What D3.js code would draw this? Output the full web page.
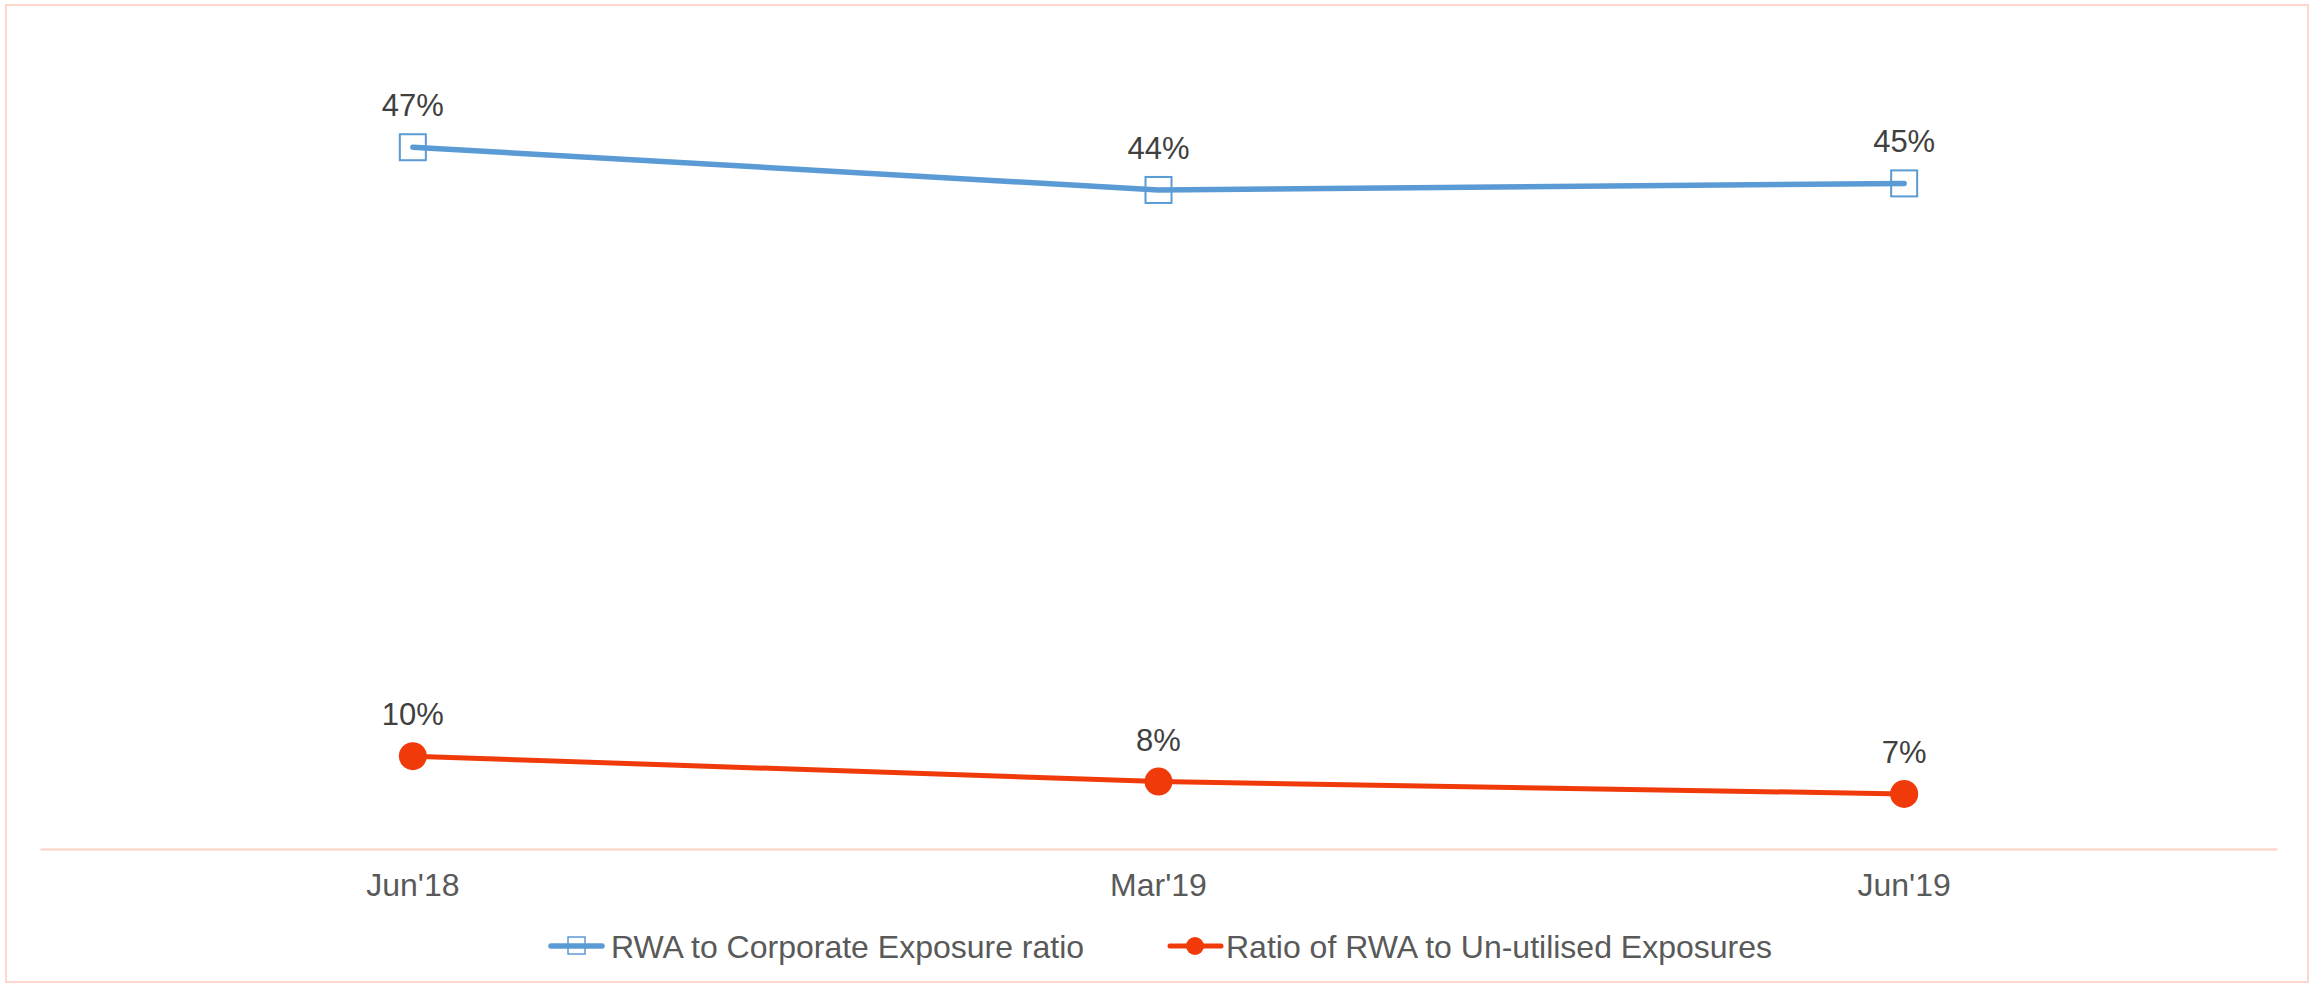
<!doctype html>
<html lang="en">
  <head>
    <meta charset="utf-8">
    <title>RWA ratios</title>
    <style>
      html, body { margin: 0; padding: 0; background: #fff; }
      svg { display: block; font-family: "Liberation Sans", Arial, sans-serif; }
    </style>
  </head>
  <body>
    <svg id="chart" width="2310" height="984"></svg>

    <script src="https://cdn.jsdelivr.net/npm/d3@7"></script>
    <script>
    // chart data
    var categories = ["Jun'18", "Mar'19", "Jun'19"];
    var corporateRatio = [46.7, 44.1, 44.5];
    var unutilisedRatio = [9.65, 8.1, 7.35];
    var seriesNames = ["RWA to Corporate Exposure ratio", "Ratio of RWA to Un-utilised Exposures"];

    var blue = "#5B9BD5", red = "#F03A0A";

    var svg = d3.select("#chart");

    // outer border
    svg.append("rect")
      .attr("x", 6).attr("y", 5)
      .attr("width", 2302).attr("height", 977)
      .attr("fill", "none")
      .attr("stroke", "#FFD6CC")
      .attr("stroke-width", 2);

    var x = d3.scaleBand()
      .domain(categories)
      .range([40, 2277]);

    var y = d3.scaleLinear()
      .domain([4, 50])
      .range([849, 93]);

    var cx = function(i) { return x(categories[i]) + x.bandwidth() / 2; };

    // category axis
    var xAxis = svg.append("g")
      .attr("transform", "translate(0,849)")
      .call(d3.axisBottom(x).tickSize(0).tickPadding(24));
    xAxis.select(".domain")
      .attr("stroke", "#FFD0C4")
      .attr("stroke-width", 2);
    xAxis.selectAll("text")
      .attr("font-size", 32)
      .attr("font-family", "Liberation Sans, Arial, sans-serif")
      .attr("fill", "#595959")
      .attr("dy", "0.71em");

    var line = d3.line()
      .x(function(d, i) { return cx(i); })
      .y(function(d) { return y(d); });

    // blue series
    svg.append("path")
      .datum(corporateRatio)
      .attr("d", line)
      .attr("fill", "none")
      .attr("stroke", blue)
      .attr("stroke-width", 5.5)
      .attr("stroke-linecap", "round");

    svg.selectAll(".sq")
      .data(corporateRatio)
      .join("rect")
      .attr("class", "sq")
      .attr("x", function(d, i) { return cx(i) - 13; })
      .attr("y", function(d) { return y(d) - 13; })
      .attr("width", 26).attr("height", 26)
      .attr("fill", "none")
      .attr("stroke", blue)
      .attr("stroke-width", 2);

    // red series
    svg.append("path")
      .datum(unutilisedRatio)
      .attr("d", line)
      .attr("fill", "none")
      .attr("stroke", red)
      .attr("stroke-width", 5)
      .attr("stroke-linecap", "round");

    svg.selectAll(".dot")
      .data(unutilisedRatio)
      .join("circle")
      .attr("class", "dot")
      .attr("cx", function(d, i) { return cx(i); })
      .attr("cy", function(d) { return y(d); })
      .attr("r", 14)
      .attr("fill", red);

    // data labels
    [corporateRatio, unutilisedRatio].forEach(function(series) {
      svg.append("g").selectAll("text")
        .data(series)
        .join("text")
        .attr("x", function(d, i) { return cx(i); })
        .attr("y", function(d) { return y(d) - 31; })
        .attr("text-anchor", "middle")
        .attr("font-size", 31)
        .attr("fill", "#404040")
        .text(function(d) { return Math.round(d) + "%"; });
    });

    // legend
    var legend = svg.append("g").attr("transform", "translate(0,946)");
    var leg1 = legend.append("g").attr("transform", "translate(549,0)");
    leg1.append("line").attr("x1", 2).attr("x2", 53)
      .attr("stroke", blue).attr("stroke-width", 5.5).attr("stroke-linecap", "round");
    leg1.append("rect").attr("x", 19).attr("y", -9).attr("width", 17).attr("height", 17)
      .attr("fill", "none").attr("stroke", blue).attr("stroke-width", 1.5);
    leg1.append("text").attr("x", 62).attr("y", 12)
      .attr("font-size", 32).attr("fill", "#595959").text(seriesNames[0]);

    var leg2 = legend.append("g").attr("transform", "translate(1168,0)");
    leg2.append("line").attr("x1", 2).attr("x2", 53)
      .attr("stroke", red).attr("stroke-width", 5).attr("stroke-linecap", "round");
    leg2.append("circle").attr("cx", 27).attr("r", 9).attr("fill", red);
    leg2.append("text").attr("x", 58).attr("y", 12)
      .attr("font-size", 32).attr("fill", "#595959").text(seriesNames[1]);
    </script>
  </body>
</html>
